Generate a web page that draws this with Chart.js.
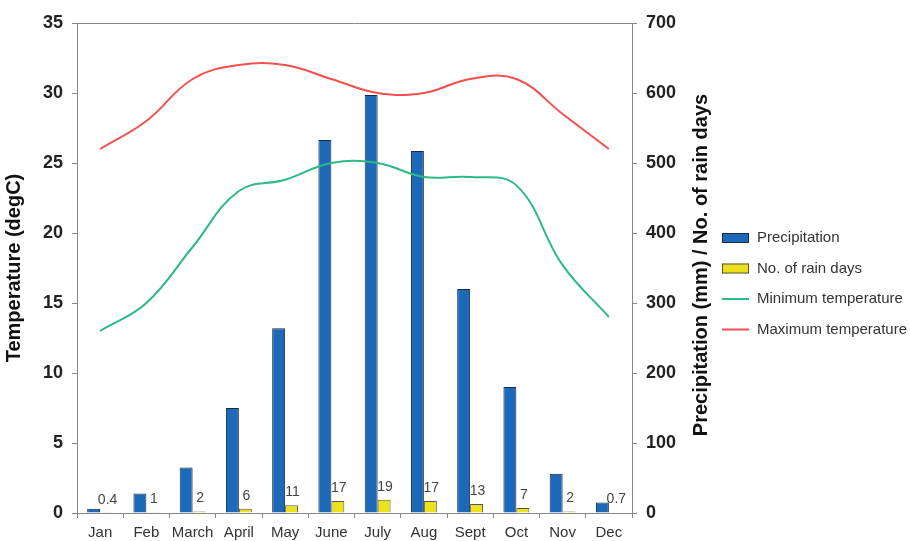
<!DOCTYPE html>
<html>
<head>
<meta charset="utf-8">
<script src="https://cdn.jsdelivr.net/npm/chart.js@4.4.0/dist/chart.umd.min.js"></script>
<style>
    body { margin: 0; background: #fff; }
    #wrap { width: 910px; height: 541px; }
</style>
</head>
<body>
<div id="wrap"><canvas id="climateChart"></canvas></div>
<script>
// Monthly climate data
const months = ['Jan', 'Feb', 'March', 'April', 'May', 'June', 'July', 'Aug', 'Sept', 'Oct', 'Nov', 'Dec'];
const precipitation = [6, 28, 65, 150, 264, 533, 597, 517, 320, 180, 56, 15];
const rainDays = [0.4, 1, 2, 6, 11, 17, 19, 17, 13, 7, 2, 0.7];
const minTemp = [13, 15, 19, 23, 23.8, 25, 25, 24, 24, 23.4, 17.7, 14];
const maxTemp = [26, 28, 31, 32, 32, 31, 30, 30, 31, 31, 28.5, 26];
const tempTicks = [0, 5, 10, 15, 20, 25, 30, 35];
const precipTicks = [0, 100, 200, 300, 400, 500, 600, 700];

const FONT = "'Liberation Sans', Arial, sans-serif";
const rightTitle = 'Precipitation (mm) / No. of rain days';

// rain day counts, top border, right axis title (reads upwards) and the legend
const extrasPlugin = {
    id: 'extras',
    afterDatasetsDraw(chart) {
        const ctx = chart.ctx;
        const meta = chart.getDatasetMeta(1);
        ctx.save();
        ctx.font = '14px ' + FONT;
        ctx.fillStyle = '#444';
        ctx.textAlign = 'center';
        ctx.textBaseline = 'bottom';
        meta.data.forEach(function(bar, i) {
            ctx.fillText(String(rainDays[i]), bar.x + 1, bar.y - 6);
        });
        ctx.restore();
    },
    afterDraw(chart) {
        const ctx = chart.ctx;
        const area = chart.chartArea;
        ctx.save();
        ctx.strokeStyle = '#888';
        ctx.lineWidth = 1;
        ctx.beginPath();
        ctx.moveTo(area.left, area.top + 0.5);
        ctx.lineTo(area.right, area.top + 0.5);
        ctx.stroke();

        const y1 = chart.scales.y1;
        ctx.save();
        ctx.translate(y1.right - 11, (area.top + area.bottom) / 2 - 3);
        ctx.rotate(-Math.PI / 2);
        ctx.font = 'bold 20px ' + FONT;
        ctx.fillStyle = '#111';
        ctx.textAlign = 'center';
        ctx.textBaseline = 'middle';
        ctx.fillText(rightTitle, 0, 0);
        ctx.restore();

        // legend
        const boxX = y1.right + 10;
        let rowY = 238;
        ctx.font = '15px ' + FONT;
        ctx.textAlign = 'left';
        ctx.textBaseline = 'middle';
        chart.data.datasets.forEach(function(ds) {
            if (ds.type === 'line') {
                ctx.strokeStyle = ds.borderColor;
                ctx.lineWidth = 2;
                ctx.beginPath();
                ctx.moveTo(boxX, rowY);
                ctx.lineTo(boxX + 27, rowY);
                ctx.stroke();
            } else {
                ctx.fillStyle = ds.backgroundColor;
                ctx.fillRect(boxX, rowY - 5, 27, 10);
                ctx.strokeStyle = ds.borderColor;
                ctx.lineWidth = 1;
                ctx.strokeRect(boxX + 0.5, rowY - 4.5, 26, 9);
            }
            ctx.fillStyle = '#333';
            ctx.fillText(ds.label, boxX + 35, rowY);
            rowY += 30.5;
        });
        ctx.restore();
    }
};

const ctx = document.getElementById('climateChart').getContext('2d');
new Chart(ctx, {
    type: 'bar',
    data: {
        labels: months,
        datasets: [
            {
                label: 'Precipitation',
                data: precipitation,
                yAxisID: 'y1',
                backgroundColor: '#1c68b9',
                borderColor: '#1b2b44',
                borderWidth: 1,
                order: 2
            },
            {
                label: 'No. of rain days',
                data: rainDays,
                yAxisID: 'y1',
                backgroundColor: '#ece21a',
                borderColor: '#555',
                borderWidth: 1,
                order: 2
            },
            {
                type: 'line',
                label: 'Minimum temperature',
                data: minTemp,
                yAxisID: 'y',
                borderColor: '#2cb985',
                backgroundColor: '#2cb985',
                borderWidth: 2,
                pointRadius: 0,
                tension: 0.4,
                order: 1
            },
            {
                type: 'line',
                label: 'Maximum temperature',
                data: maxTemp,
                yAxisID: 'y',
                borderColor: '#f2504f',
                backgroundColor: '#f2504f',
                borderWidth: 2,
                pointRadius: 0,
                tension: 0.4,
                order: 1
            }
        ]
    },
    options: {
        responsive: true,
        maintainAspectRatio: false,
        animation: false,
        layout: {
            padding: { top: 23, bottom: 0, left: 0, right: 198 }
        },
        datasets: {
            bar: {
                categoryPercentage: 0.56,
                barPercentage: 1.0
            }
        },
        plugins: {
            tooltip: { enabled: false },
            legend: { display: false }
        },
        scales: {
            x: {
                afterFit: function(scale) { scale.height = 28; },
                grid: {
                    offset: true,
                    drawOnChartArea: false,
                    drawTicks: true,
                    tickLength: 5,
                    color: '#888'
                },
                border: { color: '#888' },
                ticks: {
                    color: '#333',
                    font: { family: FONT, size: 15 },
                    maxRotation: 0,
                    autoSkip: false,
                    padding: 6
                }
            },
            y: {
                position: 'left',
                min: 0,
                max: 35,
                afterBuildTicks: function(scale) {
                    scale.ticks = tempTicks.map(function(v) { return { value: v }; });
                },
                afterFit: function(scale) { scale.width = 77; },
                grid: {
                    drawOnChartArea: false,
                    tickLength: 5,
                    color: '#888'
                },
                border: { color: '#888' },
                ticks: {
                    color: '#222',
                    font: { family: FONT, size: 18, weight: 'bold' },
                    padding: 9
                },
                title: {
                    display: true,
                    text: 'Temperature (degC)',
                    color: '#111',
                    font: { family: FONT, size: 20, weight: 'bold' },
                    padding: { top: 2, bottom: 0 }
                }
            },
            y1: {
                position: 'right',
                min: 0,
                max: 700,
                afterBuildTicks: function(scale) {
                    scale.ticks = precipTicks.map(function(v) { return { value: v }; });
                },
                afterFit: function(scale) { scale.width = 80; },
                grid: {
                    drawOnChartArea: false,
                    tickLength: 5,
                    color: '#888'
                },
                border: { color: '#888' },
                ticks: {
                    color: '#222',
                    font: { family: FONT, size: 18, weight: 'bold' },
                    padding: 9
                },
                title: { display: false }
            }
        }
    },
    plugins: [extrasPlugin]
});
</script>
</body>
</html>
